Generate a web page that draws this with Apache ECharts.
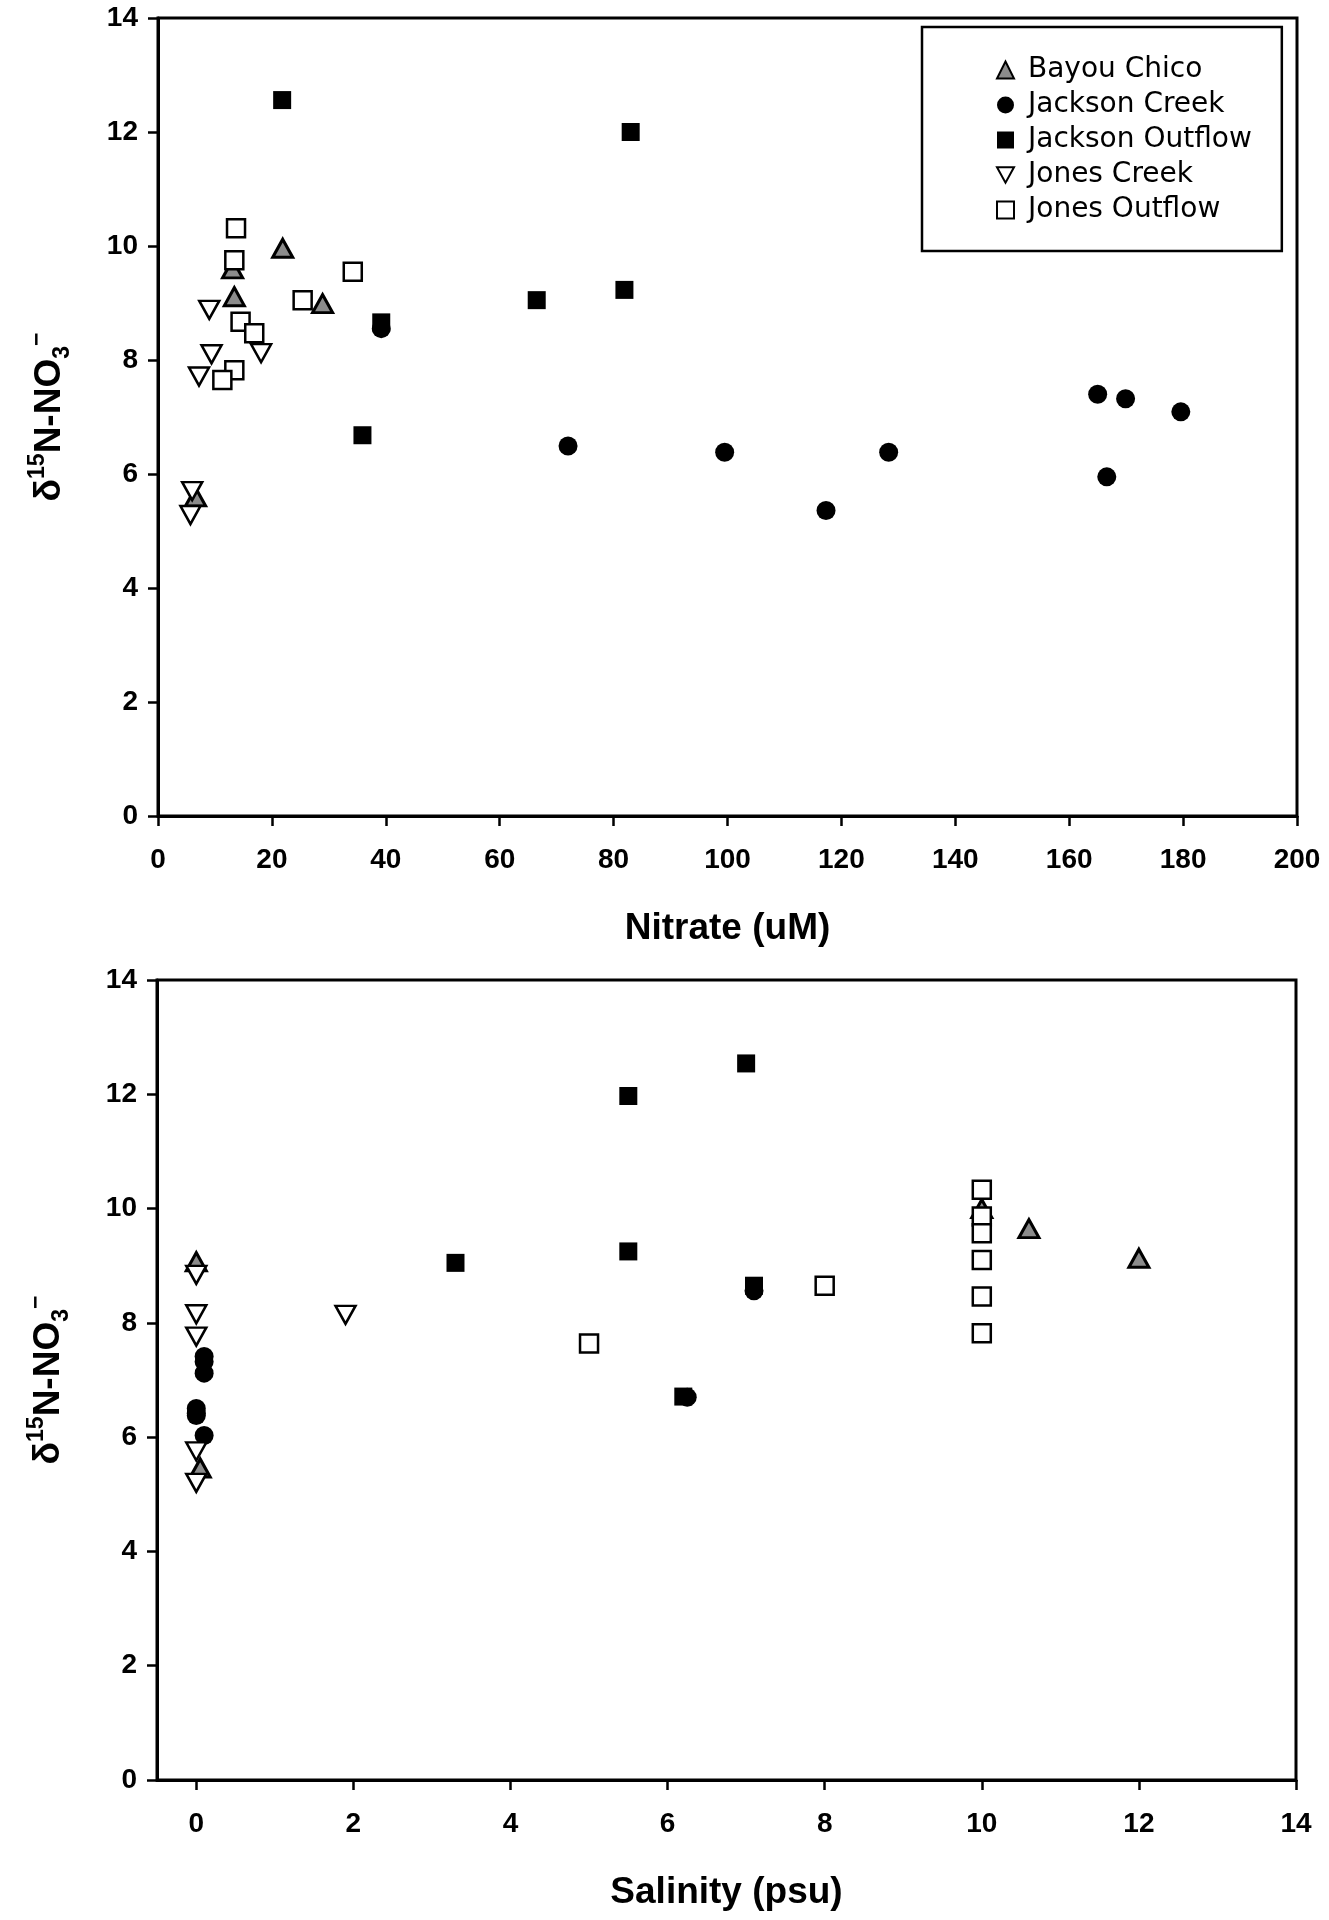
<!DOCTYPE html>
<html>
<head>
<meta charset="utf-8">
<script src="https://cdn.jsdelivr.net/npm/echarts@6/dist/echarts.min.js"></script>
<style>
  html, body { margin: 0; padding: 0; background: #fff; }
  #chart { width: 1329px; height: 1920px; }
</style>
</head>
<body>
<div id="chart"></div>
<script>
// series names (legend order)
const siteNames = ['Bayou Chico', 'Jackson Creek', 'Jackson Outflow', 'Jones Creek', 'Jones Outflow'];

// top panel: nitrate (uM) vs d15N
const bayouChicoNitrate = [21.9, 13.1, 13.4, 28.9, 6.6];
const bayouChicoN15Top = [9.96, 9.6, 9.11, 8.99, 5.6];
const jacksonCreekNitrate = [39.2, 72.0, 99.5, 117.3, 128.3, 165.0, 169.9, 179.6, 166.6];
const jacksonCreekN15Top = [8.55, 6.49, 6.38, 5.36, 6.38, 7.40, 7.32, 7.09, 5.95];
const jacksonOutflowNitrate = [21.8, 83.0, 66.5, 81.9, 39.2, 35.9];
const jacksonOutflowN15Top = [12.56, 12.0, 9.05, 9.23, 8.66, 6.68];
const jonesCreekNitrate = [9.0, 9.4, 7.2, 18.1, 6.0, 5.7];
const jonesCreekN15Top = [8.88, 8.1, 7.71, 8.12, 5.7, 5.28];
const jonesOutflowNitrate = [13.7, 13.4, 34.2, 25.4, 14.5, 16.9, 13.4, 11.3];
const jonesOutflowN15Top = [10.31, 9.75, 9.55, 9.05, 8.67, 8.47, 7.82, 7.65];

// bottom panel: salinity (psu) vs d15N
const bayouChicoSalinity = [10.0, 10.6, 12.0, 0.0, 0.05];
const bayouChicoN15Bot = [10.0, 9.65, 9.13, 9.07, 5.46];
const jacksonCreekSalinity = [0.1, 0.1, 0.1, 0.0, 0.0, 0.0, 0.1, 7.1, 6.25];
const jacksonCreekN15Bot = [7.41, 7.32, 7.12, 6.5, 6.42, 6.38, 6.03, 8.56, 6.7];
const jacksonOutflowSalinity = [7.0, 5.5, 3.3, 5.5, 7.1, 6.2];
const jacksonOutflowN15Bot = [12.54, 11.97, 9.05, 9.25, 8.65, 6.71];
const jonesCreekSalinity = [0.0, 0.0, 0.0, 1.9, 0.0, 0.0];
const jonesCreekN15Bot = [8.84, 8.15, 7.76, 8.14, 5.75, 5.2];
const jonesOutflowSalinity = [10.0, 10.0, 10.0, 10.0, 8.0, 10.0, 10.0, 5.0];
const jonesOutflowN15Bot = [10.33, 9.86, 9.57, 9.10, 8.65, 8.46, 7.82, 7.64];

const nitrateTicks = [0, 20, 40, 60, 80, 100, 120, 140, 160, 180, 200];
const salinityTicks = [0, 2, 4, 6, 8, 10, 12, 14];

const zip = (xs, ys) => xs.map((x, i) => [x, ys[i]]);

const downTri = 'path://M0,0 L10,0 L5,9 Z';
const styles = {
  'Bayou Chico':     { symbol: 'triangle', symbolSize: [20, 18], itemStyle: { color: '#8c8c8c', borderColor: '#000', borderWidth: 3, opacity: 1 } },
  'Jackson Creek':   { symbol: 'circle',   symbolSize: 19, itemStyle: { color: '#000', opacity: 1 } },
  'Jackson Outflow': { symbol: 'rect',     symbolSize: 18, itemStyle: { color: '#000', opacity: 1 } },
  'Jones Creek':     { symbol: downTri,    symbolSize: [20, 18], itemStyle: { color: '#fff', borderColor: '#000', borderWidth: 2.5, opacity: 1 } },
  'Jones Outflow':   { symbol: 'rect',     symbolSize: 18, itemStyle: { color: '#fff', borderColor: '#000', borderWidth: 2.5, opacity: 1 } }
};

const topData = [
  zip(bayouChicoNitrate, bayouChicoN15Top),
  zip(jacksonCreekNitrate, jacksonCreekN15Top),
  zip(jacksonOutflowNitrate, jacksonOutflowN15Top),
  zip(jonesCreekNitrate, jonesCreekN15Top),
  zip(jonesOutflowNitrate, jonesOutflowN15Top)
];
const botData = [
  zip(bayouChicoSalinity, bayouChicoN15Bot),
  zip(jacksonCreekSalinity, jacksonCreekN15Bot),
  zip(jacksonOutflowSalinity, jacksonOutflowN15Bot),
  zip(jonesCreekSalinity, jonesCreekN15Bot),
  zip(jonesOutflowSalinity, jonesOutflowN15Bot)
];

const tickFont = { fontFamily: 'Liberation Sans, Arial, sans-serif', fontWeight: 'bold', fontSize: 28, color: '#000' };
const nameFont = { fontFamily: 'Liberation Sans, Arial, sans-serif', fontWeight: 'bold', fontSize: 37, color: '#000' };
const yName = '{d|δ}{sup|15}{d|N-NO}{sub|3}{sup|−}';
const yRich = {
  d: { fontFamily: 'Liberation Sans, Arial', fontWeight: 'bold', fontSize: 37, lineHeight: 48, verticalAlign: 'middle' },
  sup: { fontFamily: 'Liberation Sans, Arial', fontWeight: 'bold', fontSize: 23, lineHeight: 48, verticalAlign: 'top' },
  sub: { fontFamily: 'Liberation Sans, Arial', fontWeight: 'bold', fontSize: 23, lineHeight: 48, verticalAlign: 'bottom' }
};

function xAxisCfg(gridIndex, min, max, ticks, name) {
  return {
    gridIndex: gridIndex, type: 'value', min: min, max: max,
    name: name, nameLocation: 'middle', nameGap: 94, nameTextStyle: nameFont,
    splitLine: { show: false },
    axisLine: { onZero: false, lineStyle: { color: '#000', width: 3 } },
    axisTick: { show: true, length: 10, inside: false, customValues: ticks, lineStyle: { color: '#000', width: 2.5 } },
    axisLabel: Object.assign({ margin: 30, customValues: ticks }, tickFont)
  };
}
function yAxisCfg(gridIndex) {
  return {
    gridIndex: gridIndex, type: 'value', min: 0, max: 14, interval: 2,
    name: yName, nameLocation: 'middle', nameGap: 84, nameRotate: 90,
    nameTextStyle: { rich: yRich, color: '#000' },
    splitLine: { show: false },
    axisLine: { onZero: false, lineStyle: { color: '#000', width: 3 } },
    axisTick: { show: true, length: 10, lineStyle: { color: '#000', width: 2.5 } },
    axisLabel: Object.assign({ margin: 20 }, tickFont)
  };
}

const series = [];
[topData, botData].forEach((set, g) => {
  set.forEach((pts, i) => {
    const nm = siteNames[i];
    series.push(Object.assign({
      name: nm, type: 'scatter', xAxisIndex: g, yAxisIndex: g,
      data: pts, z: 2 + i
    }, styles[nm]));
  });
});

const chart = echarts.init(document.getElementById('chart'), null, { renderer: 'canvas' });
chart.setOption({
  backgroundColor: '#fff',
  animation: false,
  grid: [
    { left: 158, right: 32, top: 18, height: 798, show: true, borderColor: '#000', borderWidth: 3 },
    { left: 157, right: 33, top: 980, height: 800, show: true, borderColor: '#000', borderWidth: 3 }
  ],
  xAxis: [
    xAxisCfg(0, 0, 200, nitrateTicks, 'Nitrate (uM)'),
    xAxisCfg(1, -0.5, 14, salinityTicks, 'Salinity (psu)')
  ],
  yAxis: [yAxisCfg(0), yAxisCfg(1)],
  legend: {
    orient: 'vertical', left: 922, top: 27,
    padding: [29, 30, 27, 74],
    itemGap: 7, itemWidth: 17, itemHeight: 17,
    borderColor: '#000', borderWidth: 2.5,
    backgroundColor: '#fff',
    data: siteNames,
    textStyle: { fontFamily: 'DejaVu Sans, sans-serif', fontSize: 28, color: '#000', padding: [0, 0, 0, 9] }
  },
  series: series
});
</script>
</body>
</html>
